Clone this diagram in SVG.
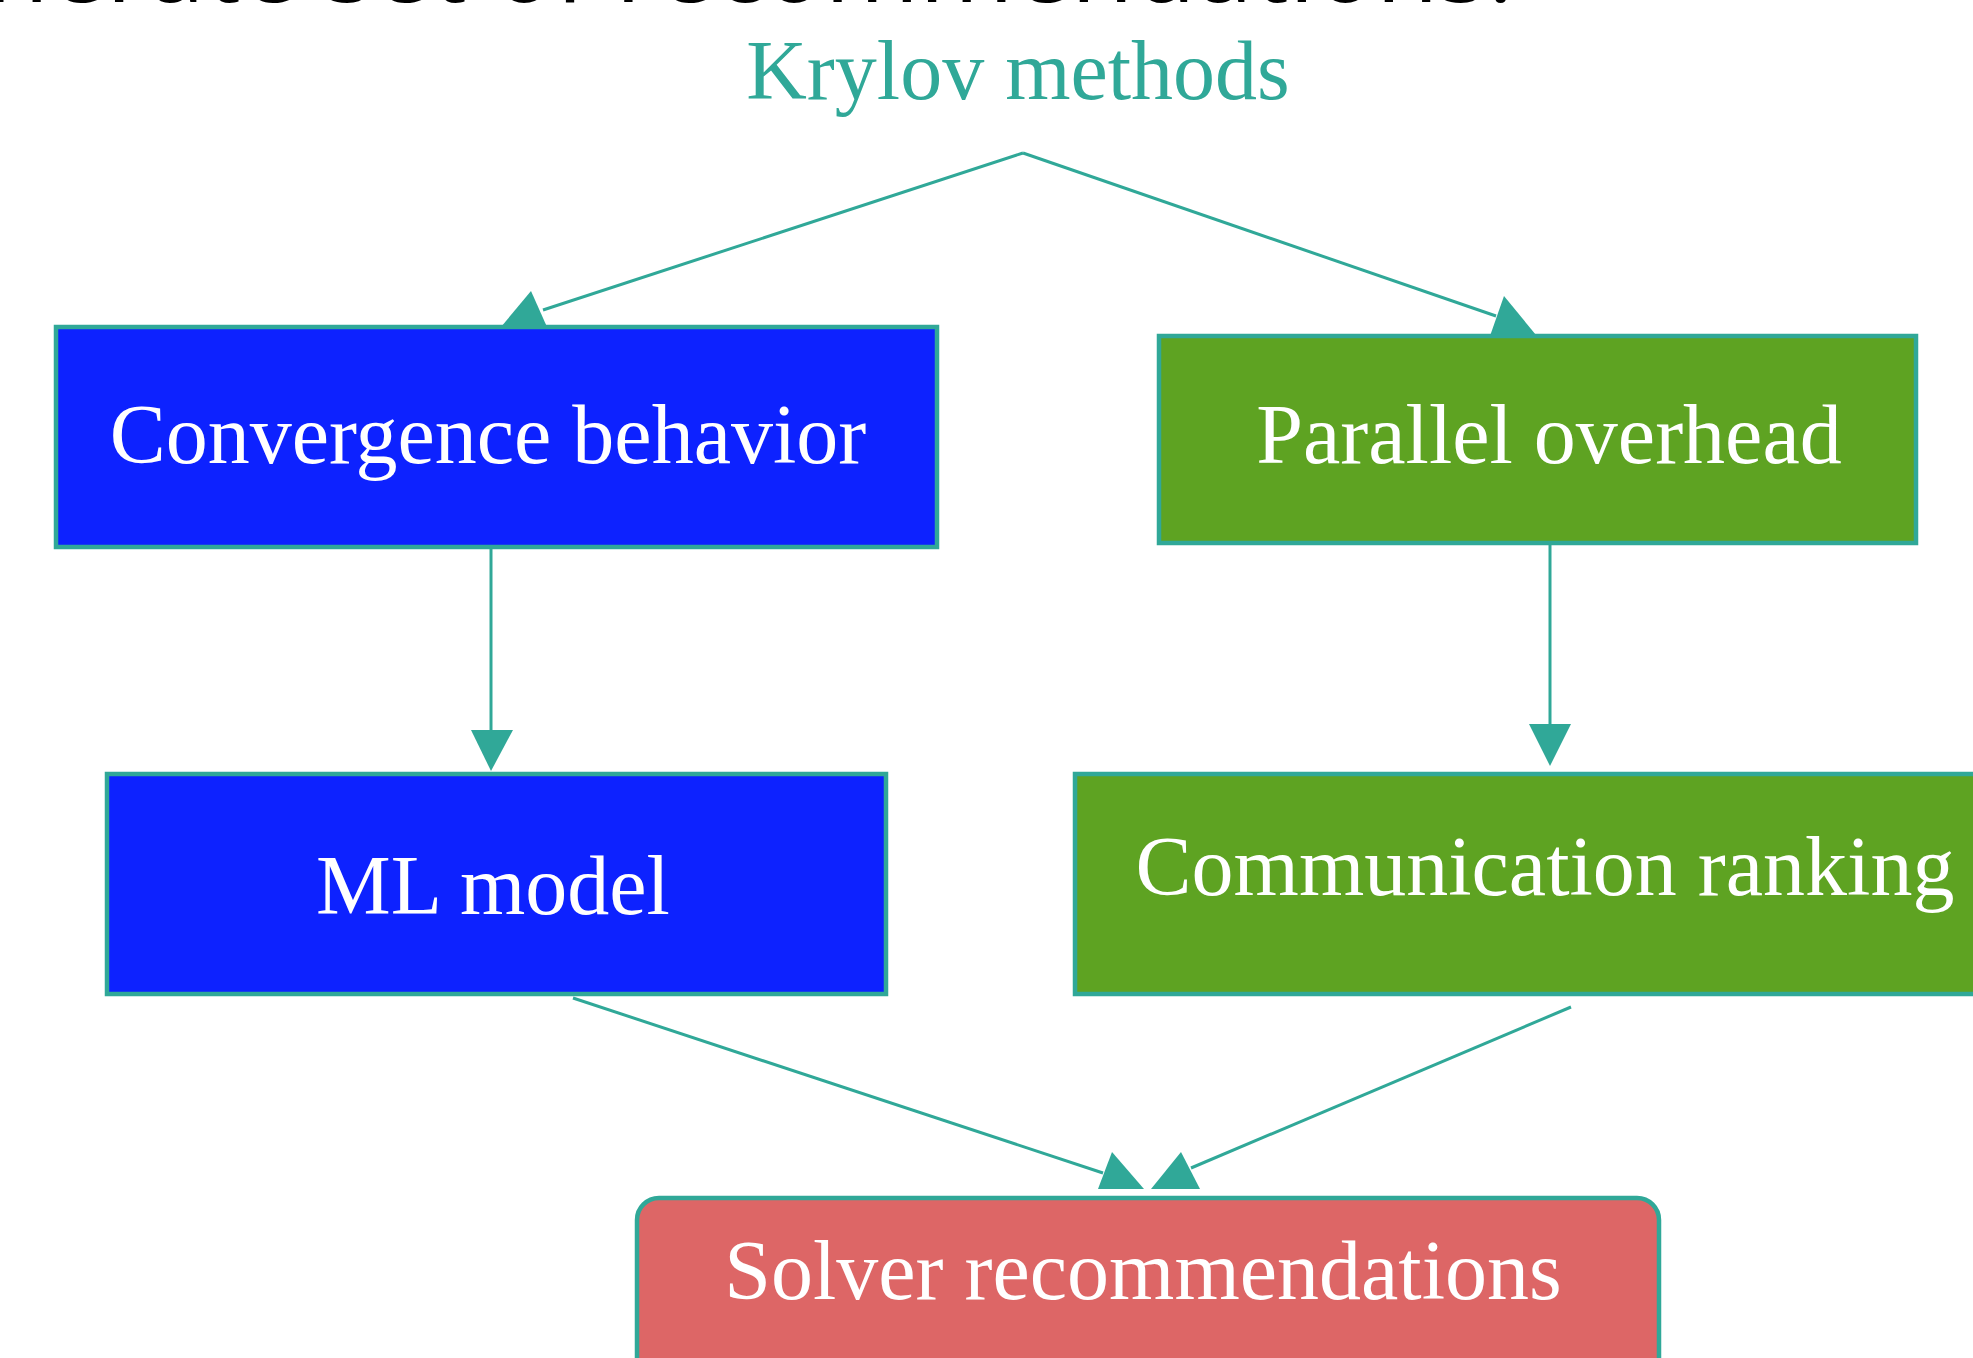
<svg xmlns="http://www.w3.org/2000/svg" width="1973" height="1358" viewBox="0 0 1973 1358">
  <style>
    .label { font-family: "Liberation Serif", "Times New Roman", serif; font-size: 84px; fill: #ffffff; text-anchor: middle; }
    .title { font-family: "Liberation Serif", "Times New Roman", serif; font-size: 84px; fill: #30a898; text-anchor: middle; }
    .heading { font-family: "Open Sans", "Noto Sans", sans-serif; font-size: 102px; fill: #000000; text-anchor: end; }
    .box { stroke: #30a898; stroke-width: 4.5; }
    .blue { fill: #0d22ff; }
    .green { fill: #5ea322; }
    .red { fill: #dd6666; }
    .edge { fill: none; stroke: #30a898; stroke-width: 3; }
    .head { fill: #30a898; stroke: none; }
  </style>

  <rect width="1973" height="1358" fill="#ffffff"/>

  <!-- heading line running off the top edge -->
  <text class="heading" x="1514" y="2">Generate set of recommendations.</text>

  <g id="krylov">
    <text class="title" x="1018" y="99">Krylov methods</text>
  </g>

  <g id="connectors">
    <path class="edge" d="M1023,153 L543,310"/>
    <polygon class="head" points="531,291 501,327 547,327"/>
    <path class="edge" d="M1023,153 L1496,316"/>
    <polygon class="head" points="1504,296 1490,336 1536,335"/>
    <path class="edge" d="M491,549 L491,732"/>
    <polygon class="head" points="471,730 513,730 491,771"/>
    <path class="edge" d="M1550,545 L1550,725"/>
    <polygon class="head" points="1529,724 1571,724 1550,766"/>
    <path class="edge" d="M573,998 L1103,1173"/>
    <polygon class="head" points="1112,1152 1098,1189 1144,1189"/>
    <path class="edge" d="M1571,1007 L1191,1168"/>
    <polygon class="head" points="1181,1152 1151,1189 1200,1189"/>
  </g>

  <g id="convergence">
    <rect class="box blue" x="56" y="327" width="881" height="220"/>
    <text class="label" x="488" y="463">Convergence behavior</text>
  </g>

  <g id="parallel">
    <rect class="box green" x="1159" y="336" width="757" height="207"/>
    <text class="label" x="1549" y="463">Parallel overhead</text>
  </g>

  <g id="ml-model">
    <rect class="box blue" x="107" y="774" width="779" height="220"/>
    <text class="label" x="493" y="914">ML model</text>
  </g>

  <g id="communication">
    <rect class="box green" x="1075" y="774" width="1000" height="220"/>
    <text class="label" x="1545" y="895">Communication ranking</text>
  </g>

  <g id="solver">
    <rect class="box red" x="637" y="1198" width="1022" height="220" rx="22" ry="22"/>
    <text class="label" x="1143" y="1299">Solver recommendations</text>
  </g>
</svg>
